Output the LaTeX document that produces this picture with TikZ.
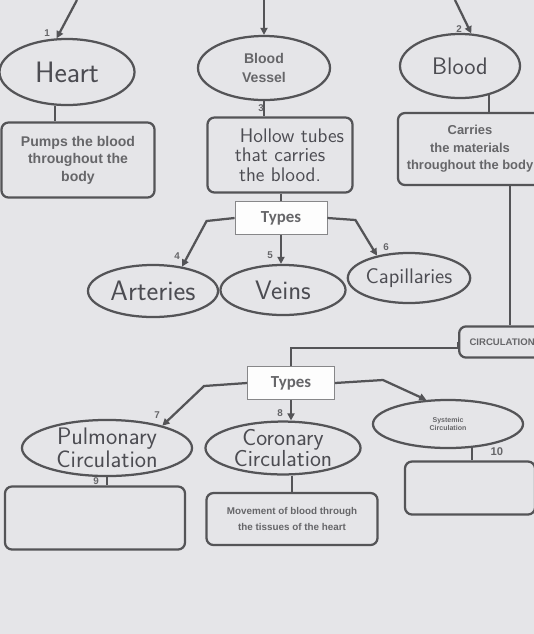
\documentclass[tikz,border=0pt]{standalone}
\usepackage{fontspec}
\setmainfont{Liberation Sans}
\newfontfamily\typesfont{Carlito}
\usepackage{tikz}
\usetikzlibrary{
	arrows.meta,
	shapes,
}
\definecolor{paper}{rgb}{0.90, 0.90, 0.91}
\definecolor{ink}{rgb}{0.33, 0.33, 0.34}
\definecolor{print}{rgb}{0.40, 0.40, 0.41}
\definecolor{pen}{rgb}{0.30, 0.30, 0.32}

\begin{document}
\begin{tikzpicture}[x=0.025cm, y=-0.025cm,
	oval/.style={ellipse, draw=ink, line width=1.6pt, fill=paper, inner sep=0pt},
	card/.style={rectangle, rounded corners=5pt, draw=ink, line width=1.6pt, fill=paper, align=center, inner sep=0pt},
	typebox/.style={rectangle, draw=ink!70, line width=0.6pt, fill=white!92!paper, minimum width=2.3cm, minimum height=0.82cm,
		font=\typesfont\bfseries\fontsize{12}{13}\selectfont, text=print},
	link/.style={draw=ink, line width=1.6pt},
	arr/.style={link, -{Triangle[length=5pt, width=5pt]}},
	num/.style={font=\bfseries\fontsize{7}{8}\selectfont, text=print, inner sep=0pt},
	printed/.style={font=\bfseries\fontsize{10}{12.5}\selectfont, text=print, align=center},
	hand/.style={text=pen, align=center},
]
\useasboundingbox (0,0) rectangle (534,634);
\clip (0,0) rectangle (534,634);
\fill[paper] (0,0) rectangle (534,634);

% top row
\node[oval, minimum width=3.375cm, minimum height=1.65cm, hand, font=\sffamily\fontsize{21}{21}\selectfont] (heart) at (67,72) {Heart};
\node[oval, minimum width=3.3cm, minimum height=1.6cm, printed] (vessel) at (264,68) {Blood\\[1pt]Vessel};
\node[oval, minimum width=3.0cm, minimum height=1.6cm, hand, font=\sffamily\fontsize{17}{17}\selectfont] (blood) at (460,66) {Blood};

\coordinate (top1) at (77,0);
\coordinate (top2) at (264,0);
\coordinate (top3) at (455,0);
\draw[arr] (top1) -- (heart.107);
\draw[arr] (top2) -- (vessel.north);
\draw[arr] (top3) -- (blood.71);
\node[num] (n1) at (47,33) {1};
\node[num] (n2) at (459,29) {2};

% descriptions
\node[card, minimum width=3.825cm, minimum height=1.875cm, printed] (heartbox) at (78,160) {Pumps the blood\\throughout the\\body};
\node[card, minimum width=3.625cm, minimum height=1.875cm, hand, font=\sffamily\fontsize{14}{14}\selectfont] (vesselbox) at (280,155) {\hspace*{0.6cm}Hollow tubes\\that carries\hspace*{0.3cm}\\the blood.};
\node[card, minimum width=3.6cm, minimum height=1.8cm, printed, font=\bfseries\fontsize{9.2}{12.5}\selectfont] (bloodbox) at (470,149) {Carries\\the materials\\throughout the body};

\draw[link] (heart.250) -- (heart.250 |- heartbox.north);
\draw[link] (vessel.south) -- (vessel.south |- vesselbox.north);
\draw[link] (blood.315) -- (blood.315 |- bloodbox.north);
\node[num] (n3) at (261,108) {3};

% types of vessels
\node[typebox] (types1) at (281,218) {Types};
\draw[link] (vesselbox.south -| types1.north) -- (types1.north);

\node[oval, minimum width=3.25cm, minimum height=1.3cm, hand, font=\sffamily\fontsize{20}{20}\selectfont] (arteries) at (153,291) {Arteries};
\node[oval, minimum width=3.125cm, minimum height=1.25cm, hand, font=\sffamily\fontsize{19}{19}\selectfont] (veins) at (283,290) {Veins};
\node[oval, minimum width=3.05cm, minimum height=1.25cm, hand, font=\sffamily\fontsize{15}{15}\selectfont] (capillaries) at (409,278) {Capillaries};

\draw[arr] (types1.west) -- ++(-28,3) -- (arteries.40);
\draw[arr] (types1.south) -- (types1.south |- veins.north);
\draw[arr] (types1.east) -- ++(28,2) -- (capillaries.145);
\node[num] (n4) at (177,256) {4};
\node[num] (n5) at (270,255) {5};
\node[num] (n6) at (386,247) {6};

% circulation
\node[card, minimum width=2.6cm, minimum height=0.78cm, anchor=west, font=\bfseries\fontsize{6.8}{8}\selectfont, text=print] (circ) at (458,342) {\hspace*{0.15cm}CIRCULATION\hspace*{0.6cm}};
\draw[link] (bloodbox.south -| 510,0) -- (510,0 |- circ.north);

\node[typebox, minimum width=2.175cm] (types2) at (291,383) {Types};
\draw[link] (circ.west) -- ++(0,6) -| (types2.north);

\node[oval, minimum width=4.25cm, minimum height=1.3cm, hand, font=\sffamily\fontsize{17}{15}\selectfont] (pulmonary) at (107,448) {Pulmonary\\Circulation};
\node[oval, minimum width=3.875cm, minimum height=1.3cm, hand, font=\sffamily\fontsize{16.5}{15}\selectfont] (coronary) at (283,448) {Coronary\\Circulation};
\node[oval, minimum width=3.75cm, minimum height=1.2cm, font=\bfseries\fontsize{5}{6}\selectfont, text=print, align=center] (systemic) at (448,424) {Systemic\\Circulation};

\draw[arr] (types2.west) -- ++(-43,3) -- (pulmonary.22);
\draw[arr] (types2.south) -- (types2.south |- coronary.north);
\draw[arr] (types2.east) -- ++(48,-3) -- (systemic.132);
\node[num] (n7) at (157,415) {7};
\node[num] (n8) at (280,413) {8};

% bottom boxes
\node[card, minimum width=4.5cm, minimum height=1.575cm] (pulmbox) at (95,518) {};
\node[card, minimum width=4.275cm, minimum height=1.3cm, font=\bfseries\fontsize{7}{11}\selectfont, text=print] (corbox) at (292,519) {Movement of blood through\\the tissues of the heart};
\node[card, minimum width=3.25cm, minimum height=1.325cm] (sysbox) at (470,488) {};

\draw[link] (pulmonary.south) -- (pulmonary.south |- pulmbox.north);
\draw[link] (coronary.south -| corbox.north) -- (corbox.north);
\draw[link] (systemic.315) -- (systemic.315 |- sysbox.north);
\node[num] (n9) at (96,481) {9};
\node[num, font=\bfseries\fontsize{8}{9}\selectfont] (n10) at (497,452) {10};
\end{tikzpicture}
\end{document}
